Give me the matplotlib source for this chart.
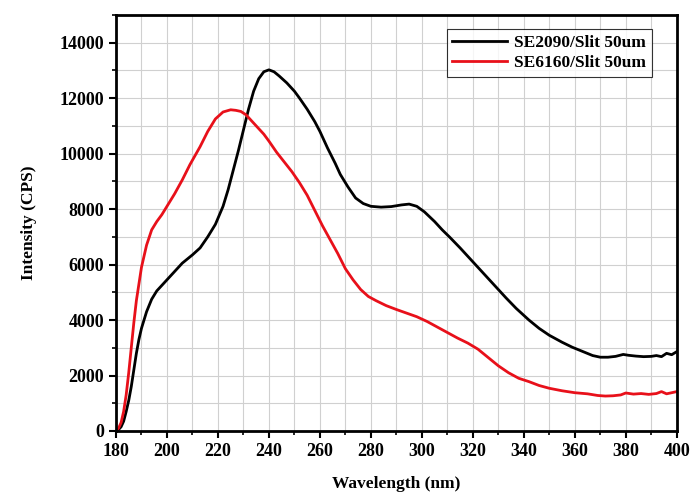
import numpy as np
import matplotlib.pyplot as plt
from matplotlib.ticker import MultipleLocator

plt.rcParams['font.family'] = ['Liberation Serif', 'DejaVu Serif']
plt.rcParams['font.weight'] = 'bold'

# SE2090 / Slit 50um
wl_a = [180, 181, 182, 183, 184, 185, 186, 187, 188, 189, 190, 192, 194, 196, 198, 200,
        203, 206, 210, 213, 216, 219, 222, 224, 226, 228, 230, 232, 234, 236, 238, 240,
        242, 244, 247, 250, 252, 255, 258, 260, 263, 266, 268, 271, 274, 277, 280, 284,
        288, 292, 295, 298, 301, 305, 308, 311, 315, 318, 322, 326, 329, 333, 337, 342,
        346, 350, 355, 359, 363, 367, 370, 373, 376, 379, 381, 384, 387, 390, 392, 394,
        396, 398, 400]
int_a = [0, 50, 150, 350, 700, 1100, 1600, 2200, 2800, 3300, 3700, 4300, 4750, 5050, 5250, 5450,
         5750, 6050, 6350, 6600, 7000, 7450, 8100, 8700, 9400, 10100, 10850, 11600, 12250, 12700, 12950, 13020,
         12950, 12800, 12550, 12250, 12000, 11600, 11150, 10800, 10200, 9650, 9250, 8800, 8400, 8200, 8100, 8070,
         8090, 8150, 8180, 8100, 7900, 7550, 7250, 6980, 6600, 6300, 5900, 5500, 5200, 4800, 4420, 4000,
         3700, 3450, 3200, 3020, 2870, 2720, 2660, 2660, 2690, 2760, 2730, 2700, 2680, 2690, 2720, 2680,
         2800, 2750, 2860]

# SE6160 / Slit 50um
wl_b = [180, 181, 182, 183, 184, 185, 186, 187, 188, 189, 190, 192, 194, 196, 198, 200,
        203, 206, 209, 213, 216, 219, 222, 225, 227, 229, 231, 233, 235, 238, 240, 243,
        246, 249, 252, 255, 258, 261, 264, 267, 270, 273, 276, 279, 282, 286, 290, 294,
        298, 302, 306, 310, 314, 318, 322, 326, 330, 334, 338, 342, 346, 350, 355, 360,
        365, 369, 372, 375, 378, 380, 383, 386, 389, 392, 394, 396, 398, 400]
int_b = [0, 100, 300, 700, 1300, 2100, 3000, 3900, 4700, 5300, 5900, 6700, 7250, 7550, 7800, 8100,
         8550, 9050, 9600, 10250, 10800, 11250, 11500, 11580, 11560, 11520, 11400, 11200, 11000, 10700, 10450, 10050,
         9700, 9350, 8950, 8500, 7950, 7400, 6900, 6400, 5850, 5450, 5100, 4850, 4700, 4520, 4380, 4250,
         4120, 3950, 3750, 3550, 3350, 3170, 2950, 2650, 2350, 2100, 1900, 1780, 1640, 1540, 1450, 1380,
         1340, 1280, 1260, 1270, 1300, 1370, 1330, 1350, 1320, 1350, 1420, 1340, 1380, 1420]

fig = plt.figure(figsize=(6.92, 4.97), dpi=100)
ax = fig.add_axes([0.1676, 0.1328, 0.8104, 0.8372])

ax.plot(wl_a, int_a, color='black', lw=2, label='SE2090/Slit 50um')
ax.plot(wl_b, int_b, color='#e8101a', lw=2, label='SE6160/Slit 50um')

ax.set_xlim(180, 400)
ax.set_ylim(0, 15000)
ax.xaxis.set_major_locator(MultipleLocator(20))
ax.xaxis.set_minor_locator(MultipleLocator(10))
ax.yaxis.set_minor_locator(MultipleLocator(1000))
ax.set_yticks([0, 2000, 4000, 6000, 8000, 10000, 12000, 14000])

ax.grid(True, which='both', color='#d0d0d0', lw=0.8)
ax.set_axisbelow(True)

for s in ax.spines.values():
    s.set_linewidth(2)
ax.tick_params(which='major', direction='out', length=5, width=1.5, labelsize=13)
ax.tick_params(which='minor', direction='out', length=3, width=1.2)

ax.set_xlabel('Wavelength (nm)', fontsize=12.5, fontweight='bold', labelpad=12)
ax.set_ylabel('Intensity (CPS)', fontsize=12.5, fontweight='bold', labelpad=16)

leg = ax.legend(loc='upper right', bbox_to_anchor=(0.955, 0.965), fontsize=12.5,
                frameon=True, fancybox=False, handlelength=3.2, borderpad=0.3,
                labelspacing=0.25, handletextpad=0.4, borderaxespad=0)
leg.get_frame().set_edgecolor('black')
leg.get_frame().set_linewidth(0.8)

fig.savefig('out.png', dpi=100)
